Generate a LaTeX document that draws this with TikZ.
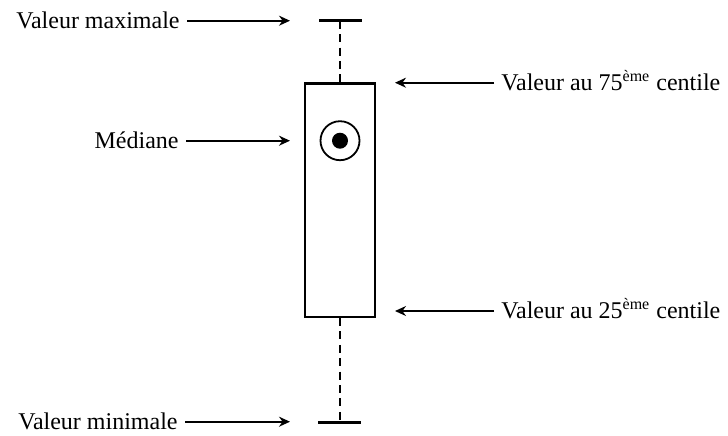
\documentclass[tikz,border=0pt]{standalone}
\usepackage{fontspec}
\setmainfont{Liberation Serif}
\usetikzlibrary{arrows.meta,positioning}

\begin{document}
\begin{tikzpicture}[
    x=0.5pt, y=-0.5pt,
    font=\fontsize{12}{14}\selectfont,
    >={Stealth[length=5.5pt, width=5pt, inset=1.8pt]},
    lbl/.style={inner xsep=3.5pt, inner ysep=0pt},
    arr/.style={->, line width=0.8pt},
    boxq/.style={draw, line width=1.2pt, minimum width=35pt, minimum height=116.6pt, inner sep=0pt},
    bar/.style={line width=1.7pt},
    whisker/.style={line width=1.4pt, dash pattern=on 4pt off 2.7pt},
    medring/.style={draw, circle, line width=0.9pt, minimum size=19.5pt, inner sep=0pt},
    meddot/.style={fill, circle, minimum size=8pt, inner sep=0pt},
]
    \useasboundingbox (0,0) rectangle (728,435);

    % Box and median
    \node[boxq] (box) at (340,200.2) {};
    \node[medring] (med) at (340,140.7) {};
    \node[meddot] (dot) at (med) {};

    % Whiskers
    \coordinate (top) at (340,20.7);
    \coordinate (bottom) at (340,422.5);
    \draw[bar] (319,20.7) -- (362,20.7);
    \draw[bar] (318,422.5) -- (361,422.5);
    \draw[whisker] (top) -- (box.north);
    \draw[whisker] (box.south) -- (bottom);

    % Left labels
    \node[lbl, anchor=base east] (vmax) at (187,28.2) {Valeur maximale};
    \node[lbl, anchor=base east] (vmed) at (186,148.2) {Médiane};
    \node[lbl, anchor=base east] (vmin) at (185,429.2) {Valeur minimale};
    \coordinate (pmax) at (290,20.7);
    \coordinate (pmed) at (290,140.7);
    \coordinate (pmin) at (290,421.7);
    \draw[arr] (vmax.base east |- pmax) -- (pmax);
    \draw[arr] (vmed.base east |- pmed) -- (pmed);
    \draw[arr] (vmin.base east |- pmin) -- (pmin);

    % Right labels
    \node[lbl, anchor=base west] (q75) at (494,90.2) {Valeur au 75\textsuperscript{ème} centile};
    \node[lbl, anchor=base west] (q25) at (494,318.5) {Valeur au 25\textsuperscript{ème} centile};
    \coordinate (p75) at (395,82.7);
    \coordinate (p25) at (395,311);
    \draw[arr] (q75.base west |- p75) -- (p75);
    \draw[arr] (q25.base west |- p25) -- (p25);

\end{tikzpicture}
\end{document}
